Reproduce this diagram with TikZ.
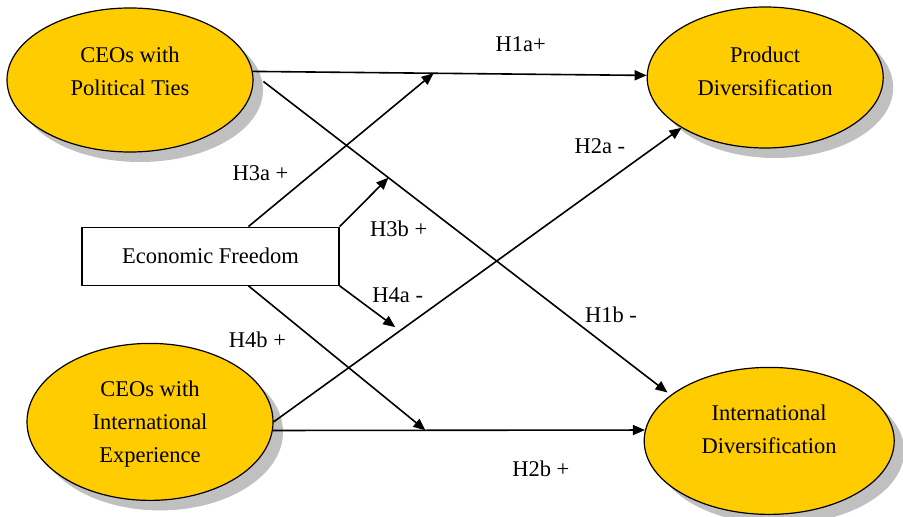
\documentclass[tikz,border=0pt]{standalone}
\usepackage{fontspec}
\setmainfont{Liberation Serif}
\usetikzlibrary{arrows.meta, positioning, shapes.geometric, shadows}
\definecolor{gold}{HTML}{FFCC00}
\definecolor{shade}{HTML}{C0C0C0}

\begin{document}
\begin{tikzpicture}[node distance=1.0cm, >={Triangle[length=6pt,width=5pt]}, font=\fontsize{11.25}{16.5}\selectfont]
        \tikzstyle{construct} = [ellipse, draw, line width=0.6pt, fill=gold, align=center, inner sep=0pt, drop shadow={shadow xshift=5pt, shadow yshift=-5pt, fill=shade, opacity=1}]
        \tikzstyle{moderator} = [rectangle, draw, line width=0.6pt, fill=white, minimum width=128.5pt, minimum height=29pt, inner sep=0pt]
        \tikzstyle{hyp} = [inner sep=0pt]
        \tikzstyle{link} = [->, thick]

        \useasboundingbox (-65pt,40pt) rectangle (386.5pt,-218.5pt);

        \node [construct, minimum width=123pt, minimum height=72pt, text depth=8.5pt] (ties) {CEOs with\\Political Ties};
        \node [construct, minimum width=118pt, minimum height=70.5pt, text depth=6.5pt, right=196.5pt of ties, yshift=1.25pt] (prod) {Product\\Diversification};
        \node [moderator, below=37pt of ties, xshift=40.25pt] (econ) {Economic Freedom};
        \node [construct, minimum width=123pt, minimum height=78.5pt, text depth=0pt, below=28.5pt of econ, xshift=-30.25pt] (intl) {CEOs with\\International\\Experience};
        \node [construct, minimum width=125pt, minimum height=73.5pt, text depth=12pt, right=185pt of intl, yshift=-9.5pt] (idiv) {International\\Diversification};

        % direct effects
        \draw [link] (ties.4) -- (prod.179) coordinate [pos=.459] (m1a) node [hyp, pos=.68, above=11pt] {H1a+};
        \draw [link, shorten <=6.5pt, shorten >=2pt] (ties.3) -- (idiv.155) coordinate [pos=.324] (m1b) node [hyp, pos=.75, right=9pt] {H1b -};
        \draw [link] (intl.east) -- (prod.211) coordinate [pos=.31] (m2a) node [hyp, pos=.8, above=16pt] {H2a -};
        \draw [link] (intl.-4) -- (idiv.175) coordinate [pos=.41] (m2b) node [hyp, pos=.72, below=15pt] {H2b +};

        % moderating effects
        \draw [link] (econ.38) -- (m1a) node [hyp, pos=.35, left=12pt] {H3a +};
        \draw [link] (econ.north east) -- (m1b) node [hyp, pos=.2, below right=1.5pt and 10pt] {H3b +};
        \draw [link, shorten >=3pt] (econ.south east) -- (m2a) node [hyp, pos=.2, right=10pt] {H4a -};
        \draw [link] (econ.-38) -- (m2b) node [hyp, pos=.375, left=14pt] {H4b +};
\end{tikzpicture}
\end{document}
